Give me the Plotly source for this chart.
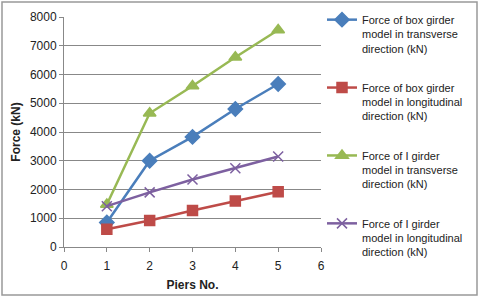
import plotly.graph_objects as go

piers = [1, 2, 3, 4, 5]
box_transverse = [850, 3000, 3830, 4800, 5670]
box_longitudinal = [620, 925, 1270, 1600, 1920]
i_transverse = [1480, 4650, 5600, 6600, 7550]
i_longitudinal = [1420, 1900, 2350, 2740, 3150]

names = [
    "Force of box girder<br>model in transverse<br>direction (kN)",
    "Force of box girder<br>model in longitudinal<br>direction (kN)",
    "Force of I girder<br>model in transverse<br>direction (kN)",
    "Force of I girder<br>model in longitudinal<br>direction (kN)",
]
series = [box_transverse, box_longitudinal, i_transverse, i_longitudinal]
colors = ["#4A7EBB", "#BE4B48", "#98B954", "#7D60A0"]
symbols = ["diamond", "square", "triangle-up", "x-thin-open"]
sizes = [11, 10, 11, 10]

FONT = "Liberation Sans, Arial"

fig = go.Figure()
for i, (n, s, c, sym, sz) in enumerate(zip(names, series, colors, symbols, sizes)):
    fig.add_trace(go.Scatter(
        x=piers, y=s, name=n, mode="lines+markers", legendgroup=f"g{i}",
        line=dict(color=c, width=2.5),
        marker=dict(symbol=sym, size=sz, color=c, line=dict(color=c, width=1.5)),
    ))

fig.update_layout(
    width=480, height=298,
    margin=dict(l=64, r=159, t=17, b=51, autoexpand=False),
    paper_bgcolor="white", plot_bgcolor="white",
    font=dict(family=FONT, size=12, color="#222222"),
    showlegend=True,
    legend=dict(x=(322 - 64) / 257, y=(247 - 6) / 230, xanchor="left", yanchor="top",
                font=dict(family=FONT, size=11, color="#222222"),
                tracegroupgap=22, itemwidth=30, valign="top", maxheight=296,
                bgcolor="rgba(0,0,0,0)"),
    xaxis=dict(range=[0, 6], dtick=1, showgrid=False, showline=True,
               linecolor="#888888", linewidth=1, ticks="outside", ticklen=4,
               tickcolor="#888888", zeroline=False, automargin=False,
               ticklabelstandoff=4,
               title=dict(text="<b>Piers No.</b>", standoff=8,
                          font=dict(family=FONT, size=12))),
    yaxis=dict(range=[0, 8000], dtick=1000, showgrid=True, gridcolor="#888888",
               gridwidth=1, showline=True, linecolor="#888888", linewidth=1,
               ticks="outside", ticklen=4, tickcolor="#888888", zeroline=False,
               automargin=False,
               title=dict(text="<b>Force (kN)</b>", standoff=6,
                          font=dict(family=FONT, size=12))),
    shapes=[dict(type="rect", xref="paper", yref="paper",
                 x0=(2 - 64) / 257, x1=(477 - 64) / 257,
                 y0=(247 - 295) / 230, y1=(247 - 2) / 230,
                 line=dict(color="#999999", width=1.5), layer="below")],
)

fig.write_html("out.html", config={"displayModeBar": False},
               post_script="document.body.style.margin='0';")
